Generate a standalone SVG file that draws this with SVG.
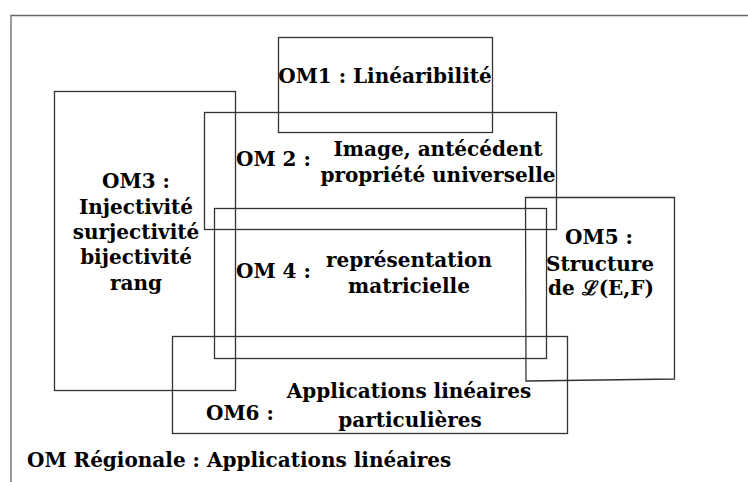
<svg xmlns="http://www.w3.org/2000/svg" width="748" height="482" viewBox="0 0 748 482">
<style>
.box{fill:none;stroke:#333;stroke-width:1.3}
.frame{fill:none;stroke:#666;stroke-width:1.3}
text{font-family:'DejaVu Serif','Liberation Serif',serif;font-weight:bold;font-size:20px;fill:#000}
.c{text-anchor:middle}
</style>
<rect width="748" height="482" fill="#fff"/>
<path class="frame" d="M11,482 V15.5 H748"/>
<g id="connectors"></g>
<g id="om1">
<rect class="box" x="278.5" y="37.5" width="214" height="95"/>
<text class="c" x="385" y="83">OM1 : Linéaribilité</text>
</g>
<g id="om2">
<rect class="box" x="204.5" y="112.5" width="352" height="117"/>
<text x="236" y="166">OM 2 :</text>
<text class="c" x="438" y="156">Image, antécédent</text>
<text class="c" x="438" y="182">propriété universelle</text>
</g>
<g id="om3">
<rect class="box" x="54.5" y="91.5" width="181" height="299"/>
<text class="c" x="136" y="188">OM3 :</text>
<text class="c" x="136" y="214">Injectivité</text>
<text class="c" x="136" y="239">surjectivité</text>
<text class="c" x="136" y="264">bijectivité</text>
<text class="c" x="136" y="290">rang</text>
</g>
<g id="om4">
<rect class="box" x="214.5" y="208.5" width="332" height="150"/>
<text x="236" y="278">OM 4 :</text>
<text class="c" x="409" y="267">représentation</text>
<text class="c" x="409" y="293">matricielle</text>
</g>
<g id="om5">
<path class="box" d="M525.5,197.5 H674.5 V379 L526,381 Z"/>
<text class="c" x="599" y="244">OM5 :</text>
<text class="c" x="600" y="271">Structure</text>
<text class="c" x="601" y="295">de ℒ(E,F)</text>
</g>
<g id="om6">
<rect class="box" x="172.5" y="336.5" width="395" height="97"/>
<text x="206" y="420">OM6 :</text>
<text class="c" x="409" y="398">Applications linéaires</text>
<text class="c" x="410" y="427">particulières</text>
</g>
<g id="regionale">
<text x="27" y="467">OM Régionale : Applications linéaires</text>
</g>
</svg>
